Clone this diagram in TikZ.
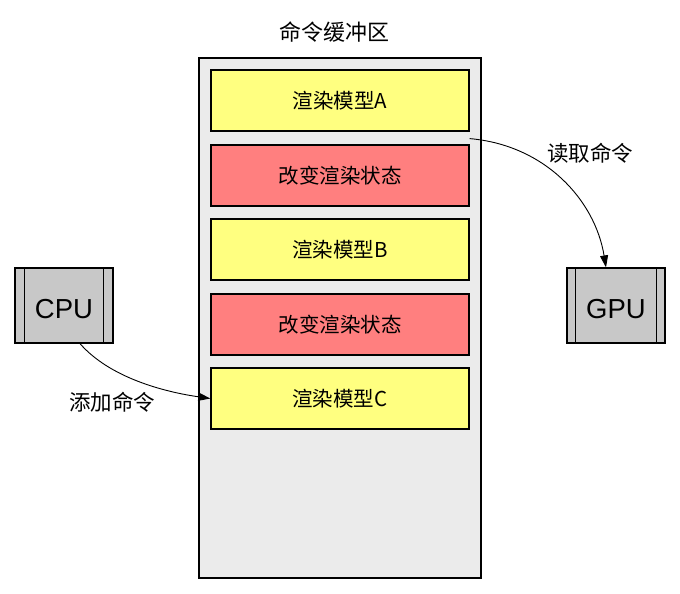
\documentclass[tikz,border=0pt]{standalone}
\usepackage{fontspec}
\setmainfont{Liberation Sans}
\newfontfamily\cjk{Noto Sans CJK SC}
\usetikzlibrary{arrows.meta}
\definecolor{yel}{HTML}{FFFF80}
\definecolor{redc}{HTML}{FF7F7F}
\definecolor{bufc}{HTML}{EBEBEB}
\definecolor{procc}{HTML}{C8C8C8}
\tikzset{
  cmd/.style={draw=black, line width=1.2pt, minimum width=258pt, minimum height=61pt, inner sep=0pt, font=\cjk\fontsize{20.5}{24}\selectfont},
  proc/.style={draw=black, line width=1.2pt, fill=procc, minimum width=98pt, minimum height=75pt, inner sep=0pt, font=\fontsize{27.5}{30}\selectfont},
  lbl/.style={font=\cjk\fontsize{21.5}{25}\selectfont, inner sep=0pt},
  conn/.style={line width=0.9pt, -{Triangle[length=12pt,width=8pt]}}
}
\begin{document}
\begin{tikzpicture}[x=1pt,y=-1pt]
\useasboundingbox (0,0) rectangle (680,594);
\node[draw=black, line width=1.2pt, fill=bufc, minimum width=282pt, minimum height=520pt, inner sep=0pt] (buf) at (340,318) {};
\node[lbl, font=\cjk\fontsize{22}{25}\selectfont] (title) at (334,32) {命令缓冲区};
\node[cmd, fill=yel] (a) at (340,100.5) {渲染模型A};
\node[cmd, fill=redc] (s1) at (340,175.5) {改变渲染状态};
\node[cmd, fill=yel] (b) at (340,249.5) {渲染模型B};
\node[cmd, fill=redc] (s2) at (340,324.5) {改变渲染状态};
\node[cmd, fill=yel] (c) at (340,398.5) {渲染模型C};
\node[proc] (cpu) at (64,305.5) {};
\node (cput) at (64,309) {\fontsize{27.5}{30}\selectfont CPU};
\draw[line width=1.2pt] ([xshift=10pt]cpu.north west) -- ([xshift=10pt]cpu.south west)
  ([xshift=-10pt]cpu.north east) -- ([xshift=-10pt]cpu.south east);
\node[proc] (gpu) at (616,305.5) {};
\node (gput) at (616,309) {\fontsize{27.5}{30}\selectfont GPU};
\draw[line width=1.2pt] ([xshift=9pt]gpu.north west) -- ([xshift=9pt]gpu.south west)
  ([xshift=-9pt]gpu.north east) -- ([xshift=-9pt]gpu.south east);
\coordinate (cpuout) at ([xshift=16pt]cpu.south);
\coordinate (aout) at ([yshift=-7pt]a.south east);
\coordinate (gpuin) at ([xshift=-10pt]gpu.north);
\draw[conn] (cpuout) .. controls (110,378) and (165,392) .. (c.west);
\draw[conn] (aout) .. controls (545,145) and (595,200) .. (gpuin);
\node[lbl] (add) at (112,402) {添加命令};
\node[lbl] (read) at (590,153) {读取命令};
\end{tikzpicture}
\end{document}
